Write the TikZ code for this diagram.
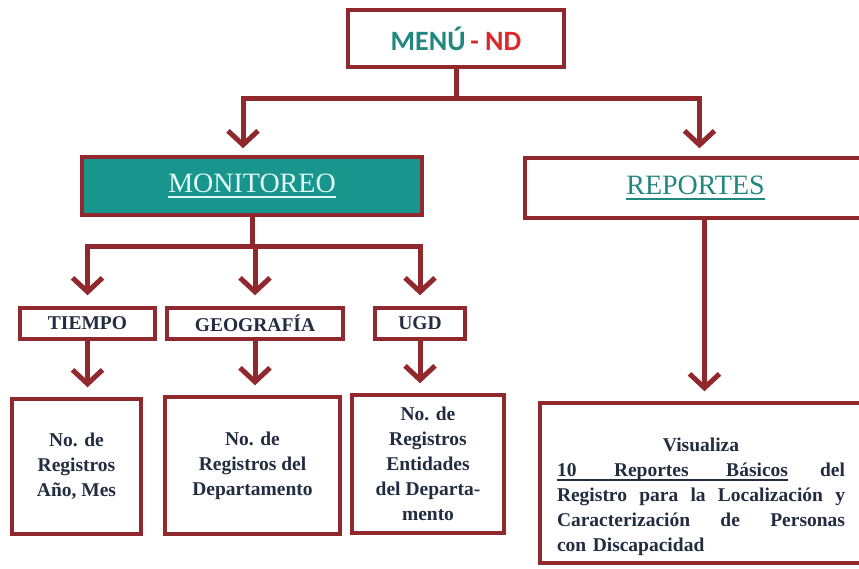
\documentclass[tikz,border=0pt]{standalone}
\usepackage{fontspec}
\setmainfont{Liberation Serif}
\newfontfamily\menufont{Carlito}
\usetikzlibrary{arrows.meta}
\definecolor{bord}{RGB}{145,40,45}
\definecolor{tealf}{RGB}{24,150,142}
\definecolor{tealt}{RGB}{34,135,126}
\definecolor{ink}{RGB}{35,45,65}
\definecolor{ndred}{RGB}{220,40,45}
\definecolor{lightt}{RGB}{225,248,244}
\newcommand\myul[3]{\leavevmode\setbox0=\hbox{#1}\rlap{\rule[-#2]{\wd0}{#3}}\box0}
\newcommand\jline[1]{\leavevmode\hbox to 288pt{#1}}
\begin{document}
\begin{tikzpicture}[x=1pt,y=-1pt,
  box/.style={draw=bord, line width=3.5pt, fill=white, inner sep=0pt, align=center},
  conn/.style={draw=bord, line width=5pt},
  arr/.style={conn, -{Straight Barb[length=14pt,width=30pt]}},
  smalltxt/.style={font=\bfseries\fontsize{19.5}{25}\selectfont, text=ink},
  headtxt/.style={font=\fontsize{28}{30}\selectfont}]
\useasboundingbox (0,0) rectangle (859,569);
\clip (0,0) rectangle (859,569);
\fill[white] (0,0) rectangle (859,569);

\node[box, minimum width=216, minimum height=57] (menu) at (456,38.5)
  {\menufont\bfseries\fontsize{28}{30}\selectfont\textcolor{tealt}{MENÚ}\,\textcolor{ndred}{- ND}};
\node[box, fill=tealf, minimum width=340, minimum height=58, headtxt, text=lightt] (mon) at (252,186)
  {\myul{MONITOREO}{6pt}{1.8pt}};
\node[box, minimum width=341, minimum height=60, headtxt, text=tealt] (rep) at (695.5,188)
  {\myul{REPORTES}{6pt}{1.8pt}};

\node[box, minimum width=135, minimum height=31, smalltxt] (tiempo) at (87.5,323.5) {TIEMPO};
\node[box, minimum width=176, minimum height=31, smalltxt] (geo) at (255,323.5) {GEOGRAFÍA};
\node[box, minimum width=90, minimum height=31, smalltxt] (ugd) at (420,323.5) {UGD};

\node[box, minimum width=129, minimum height=135, smalltxt] (b1) at (76.5,466.5)
  {No. de\\Registros\\Año, Mes};
\node[box, minimum width=175, minimum height=137, smalltxt] (b2) at (252.5,465.5)
  {No. de\\Registros del\\Departamento};
\node[box, minimum width=152, minimum height=138, smalltxt] (b3) at (428,464)
  {No. de\\Registros\\Entidades\\del Departa-\\mento};
\node[box, minimum width=322, minimum height=160, smalltxt, text width=288pt, align=left] (vis) at (701,483)
  {\jline{\rule{0pt}{42pt}\hfil Visualiza\hfil}\\
   \jline{\myul{\hbox to 231pt{10\hfil Reportes\hfil Básicos}}{4pt}{1.5pt}\hfil del}\\
   \jline{Registro\hfil para\hfil la\hfil Localización\hfil y}\\
   \jline{Caracterización\hfil de\hfil Personas}\\
   con Discapacidad};

\coordinate (j1) at (456,99);
\draw[conn] (menu.south) -- (j1);
\draw[arr, shorten >=7pt] (j1) -| ([xshift=-9pt]mon.north);
\draw[arr, shorten >=8pt] (j1) -| ([xshift=4pt]rep.north);

\coordinate (j2) at (252,247);
\draw[conn] (mon.south) -- (j2);
\draw[arr, shorten >=11pt] (j2) -| (tiempo.north);
\draw[arr, shorten >=11pt] (j2) -| (geo.north);
\draw[arr, shorten >=11pt] (j2) -| (ugd.north);

\draw[arr, shorten >=10pt] (tiempo.south) -- (tiempo.south |- b1.north);
\draw[arr, shorten >=10pt] (geo.south) -- (geo.south |- b2.north);
\draw[arr, shorten >=10pt] (ugd.south) -- (ugd.south |- b3.north);
\draw[arr, shorten >=10pt] ([xshift=9pt]rep.south) -- ([xshift=9pt]rep.south |- vis.north);
\end{tikzpicture}
\end{document}
